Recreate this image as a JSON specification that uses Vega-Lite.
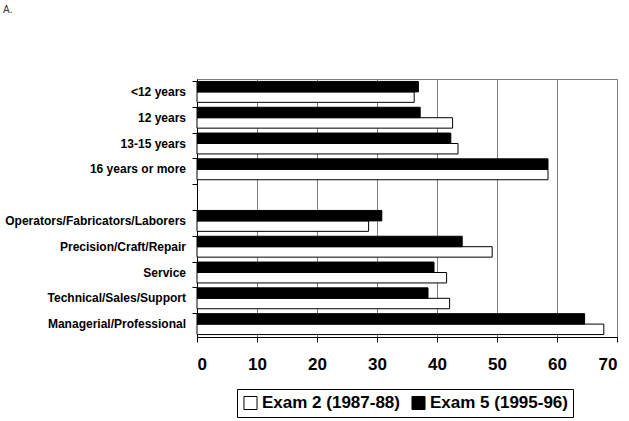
{
  "$schema": "https://vega.github.io/schema/vega-lite/v6.json",
  "autosize": "none",
  "width": 420,
  "height": 258,
  "padding": {"left": 197, "top": 79, "right": 12, "bottom": 84},
  "background": "white",
  "title": {"text": "A.", "anchor": "start", "frame": "group", "dx": -194, "offset": 64, "fontSize": 10, "fontWeight": "normal", "font": "Liberation Sans", "color": "#333"},
  "config": {
    "view": {"stroke": "#7f7f7f", "strokeWidth": 1},
    "font": "Liberation Sans"
  },
  "data": {
    "values": [
      {"cat": "<12 years", "exam": "Exam 2 (1987-88)", "value": 36.2},
      {"cat": "<12 years", "exam": "Exam 5 (1995-96)", "value": 36.9},
      {"cat": "12 years", "exam": "Exam 2 (1987-88)", "value": 42.6},
      {"cat": "12 years", "exam": "Exam 5 (1995-96)", "value": 37.2},
      {"cat": "13-15 years", "exam": "Exam 2 (1987-88)", "value": 43.5},
      {"cat": "13-15 years", "exam": "Exam 5 (1995-96)", "value": 42.3},
      {"cat": "16 years or more", "exam": "Exam 2 (1987-88)", "value": 58.5},
      {"cat": "16 years or more", "exam": "Exam 5 (1995-96)", "value": 58.5},
      {"cat": "Operators/Fabricators/Laborers", "exam": "Exam 2 (1987-88)", "value": 28.6},
      {"cat": "Operators/Fabricators/Laborers", "exam": "Exam 5 (1995-96)", "value": 30.8},
      {"cat": "Precision/Craft/Repair", "exam": "Exam 2 (1987-88)", "value": 49.2},
      {"cat": "Precision/Craft/Repair", "exam": "Exam 5 (1995-96)", "value": 44.2},
      {"cat": "Service", "exam": "Exam 2 (1987-88)", "value": 41.6},
      {"cat": "Service", "exam": "Exam 5 (1995-96)", "value": 39.5},
      {"cat": "Technical/Sales/Support", "exam": "Exam 2 (1987-88)", "value": 42.1},
      {"cat": "Technical/Sales/Support", "exam": "Exam 5 (1995-96)", "value": 38.5},
      {"cat": "Managerial/Professional", "exam": "Exam 2 (1987-88)", "value": 67.8},
      {"cat": "Managerial/Professional", "exam": "Exam 5 (1995-96)", "value": 64.6}
    ]
  },
  "layer": [
    {
      "mark": {"type": "bar", "stroke": "black", "strokeWidth": 1},
      "encoding": {
        "y": {
          "field": "cat", "type": "nominal",
          "scale": {
            "domain": ["<12 years", "12 years", "13-15 years", "16 years or more", " ", "Operators/Fabricators/Laborers", "Precision/Craft/Repair", "Service", "Technical/Sales/Support", "Managerial/Professional"],
            "paddingInner": 0.19, "paddingOuter": 0.095
          },
          "axis": {
            "title": null, "labels": false, "bandPosition": 0,
            "domainColor": "black", "tickColor": "black", "tickSize": 5, "grid": false
          }
        },
        "yOffset": {
          "field": "exam", "type": "nominal",
          "scale": {"domain": ["Exam 5 (1995-96)", "Exam 2 (1987-88)"], "paddingInner": 0, "paddingOuter": 0}
        },
        "x": {
          "field": "value", "type": "quantitative",
          "scale": {"domain": [0, 70], "nice": false},
          "axis": {
            "title": null, "values": [0, 10, 20, 30, 40, 50, 60, 70],
            "grid": true, "gridColor": "#7f7f7f", "gridOpacity": 1,
            "domainColor": "black", "tickColor": "black", "tickSize": 5,
            "labelFont": "Liberation Sans", "labelFontWeight": "bold", "labelFontSize": 17,
            "labelColor": "black", "labelPadding": 14
          }
        },
        "fill": {
          "field": "exam", "type": "nominal",
          "scale": {"domain": ["Exam 2 (1987-88)", "Exam 5 (1995-96)"], "range": ["white", "black"]},
          "legend": {
            "title": null, "orient": "none", "direction": "horizontal",
            "legendX": 40, "legendY": 310,
            "strokeColor": "black", "padding": 5,
            "symbolType": "square", "symbolSize": 170, "symbolStrokeColor": "black", "symbolStrokeWidth": 1,
            "labelFont": "Liberation Sans", "labelFontWeight": "bold", "labelFontSize": 17, "labelColor": "black",
            "labelOffset": 3, "columnPadding": 9, "labelLimit": 300
          }
        }
      }
    },
    {
      "transform": [{"filter": "datum.exam === 'Exam 5 (1995-96)'"}],
      "mark": {"type": "text", "align": "right", "baseline": "middle", "dx": -11, "font": "Liberation Sans", "fontWeight": "bold", "fontSize": 12, "color": "black"},
      "encoding": {
        "y": {"field": "cat", "type": "nominal"},
        "x": {"datum": 0},
        "text": {"field": "cat"}
      }
    }
  ]
}
